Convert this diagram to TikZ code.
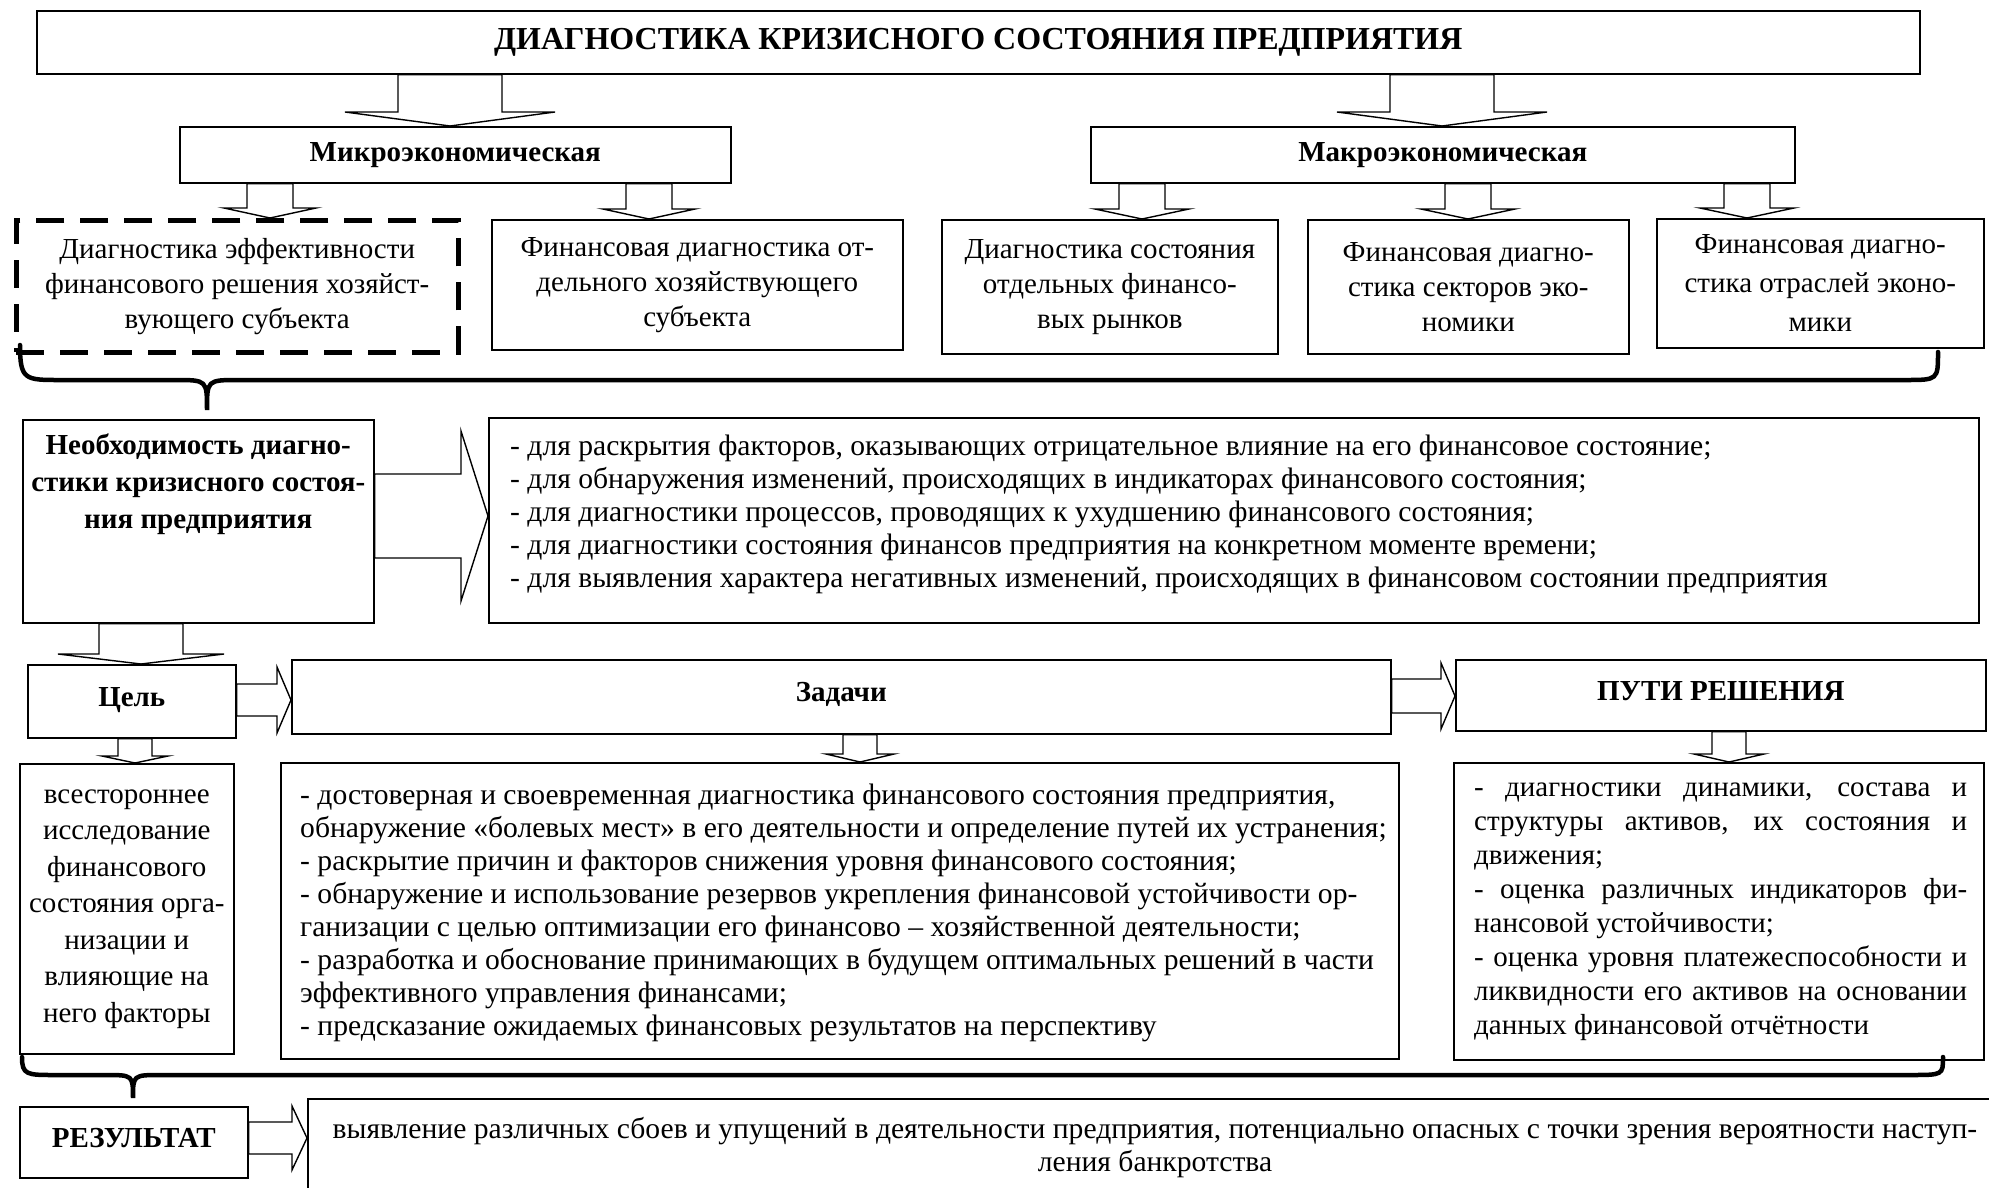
\documentclass[tikz,border=0pt]{standalone}
\usepackage{fontspec}
\setmainfont{Liberation Serif}
\usetikzlibrary{calc}

\newcommand{\txt}{\fontsize{29}{35}\selectfont}
\newcommand{\lst}{\fontsize{29.6}{33}\selectfont}
% one justified line of the right-hand list
\newcommand{\jline}[1]{\makebox[493pt][s]{\spaceskip=0.25em plus 1fil\relax #1}}

\tikzset{
  box/.style={draw, line width=1.6pt, anchor=north west, inner sep=0pt, align=center, font=\txt},
  headbox/.style={box, font=\txt\bfseries},
  capbox/.style={headbox, text height=20pt, text depth=10pt},
  listtext/.style={anchor=west, inner sep=0pt, align=left, font=\lst},
  blk/.style={draw, line width=1.4pt, fill=white},
  brace/.style={line width=4.5pt, line cap=round},
}

% hollow block arrows: position, from node, to node, half shaft, half head, head length
\newcommand{\blkdown}[6]{%
  \draw[blk] let \p1=(#2.south), \p2=(#3.north) in
    (#1pt-#4pt,\y1) -- (#1pt-#4pt,\y2+#6pt) -- (#1pt-#5pt,\y2+#6pt) -- (#1pt,\y2)
    -- (#1pt+#5pt,\y2+#6pt) -- (#1pt+#4pt,\y2+#6pt) -- (#1pt+#4pt,\y1) -- cycle;}
\newcommand{\blkright}[6]{%
  \draw[blk] let \p1=(#2.east), \p2=(#3.west) in
    (\x1,-#1pt+#4pt) -- (\x2-#6pt,-#1pt+#4pt) -- (\x2-#6pt,-#1pt+#5pt) -- (\x2,-#1pt)
    -- (\x2-#6pt,-#1pt-#5pt) -- (\x2-#6pt,-#1pt-#4pt) -- (\x1,-#1pt-#4pt) -- cycle;}

\begin{document}
\begin{tikzpicture}[x=1pt, y=-1pt]
\useasboundingbox (0,0) rectangle (1989,1187);
\clip (0,0) rectangle (1989,1187);

% title and two levels
\node[headbox, minimum width=1883pt, minimum height=63pt, font=\fontsize{32}{38}\selectfont\bfseries] (title) at (36,10) {ДИАГНОСТИКА КРИЗИСНОГО СОСТОЯНИЯ ПРЕДПРИЯТИЯ};
\node[headbox, minimum width=551pt, minimum height=56pt] (micro) at (179,126) {Микроэкономическая};
\node[headbox, minimum width=704pt, minimum height=56pt] (macro) at (1090,126) {Макроэкономическая};

\node[box, line width=4.5pt, dash pattern=on 28pt off 16pt, minimum width=442pt, minimum height=132pt] (effic) at (14,218) {Диагностика эффективности\\финансового решения хозяйст-\\вующего субъекта};
\node[box, minimum width=411pt, minimum height=130pt] (subj) at (491,219) {Финансовая диагностика от-\\дельного хозяйствующего\\субъекта};
\node[box, minimum width=336pt, minimum height=134pt] (mkts) at (941,219) {Диагностика состояния\\отдельных финансо-\\вых рынков};
\node[box, minimum width=321pt, minimum height=134pt] (sects) at (1307,219) {Финансовая диагно-\\стика секторов эко-\\номики};
\node[box, minimum width=327pt, minimum height=129pt, font=\fontsize{29}{39}\selectfont] (brnch) at (1656,218) {Финансовая диагно-\\стика отраслей эконо-\\мики};

\blkdown{450}{title}{micro}{52}{105}{14}
\blkdown{1442}{title}{macro}{52}{105}{14}
\blkdown{270}{micro}{effic}{23}{46}{10}
\blkdown{649}{micro}{subj}{23}{46}{10}
\blkdown{1142}{macro}{mkts}{23}{47}{10}
\blkdown{1468}{macro}{sects}{23}{47}{10}
\blkdown{1747}{macro}{brnch}{23}{47}{10}

\draw[brace] (20,345) .. controls (20,380) and (25,380) .. (60,380) -- (175,380)
  .. controls (207,380) .. (207,410) .. controls (207,380) .. (239,380) -- (1905,380)
  .. controls (1938,380) .. (1938,352);

% necessity
\node[box, minimum width=351pt, minimum height=203pt] (need) at (22,419) {};
\node[font=\fontsize{29}{37}\selectfont\bfseries, align=center, anchor=north, inner sep=0pt] (needtxt) at ($(need.north)+(0,15)$) {Необходимость диагно-\\стики кризисного состоя-\\ния предприятия};
\node[box, minimum width=1490pt, minimum height=205pt] (why) at (488,417) {};
\node[listtext] (whytxt) at (510,514) {%
- для раскрытия факторов, оказывающих отрицательное влияние на его финансовое состояние;\\
- для обнаружения изменений, происходящих в индикаторах финансового состояния;\\
- для диагностики процессов, проводящих к ухудшению финансового состояния;\\
- для диагностики состояния финансов предприятия на конкретном моменте времени;\\
- для выявления характера негативных изменений, происходящих в финансовом состоянии предприятия};
\blkright{516}{need}{why}{42}{85}{27}

% goal, tasks, ways
\node[capbox, minimum width=208pt, minimum height=73pt] (goal) at (27,664) {Цель};
\node[capbox, minimum width=1099pt, minimum height=74pt] (tasks) at (291,659) {Задачи};
\node[capbox, minimum width=530pt, minimum height=71pt] (ways) at (1455,659) {ПУТИ РЕШЕНИЯ};
\blkdown{141}{need}{goal}{42}{83}{10}
\blkright{700}{goal}{tasks}{16}{33}{14}
\blkright{696}{tasks}{ways}{17}{33}{14}

\node[box, minimum width=214pt, minimum height=290pt, font=\fontsize{29}{36.5}\selectfont] (aim) at (19,763) {всестороннее\\исследование\\финансового\\состояния орга-\\низации и\\влияющие на\\него факторы};
\node[box, minimum width=1118pt, minimum height=296pt] (tlist) at (280,762) {};
\node[listtext] (tlisttxt) at (300,913) {%
- достоверная и своевременная диагностика финансового состояния предприятия,\\
обнаружение «болевых мест» в его деятельности и определение путей их устранения;\\
- раскрытие причин и факторов снижения уровня финансового состояния;\\
- обнаружение и использование резервов укрепления финансовой устойчивости ор-\\
ганизации с целью оптимизации его финансово – хозяйственной деятельности;\\
- разработка и обоснование принимающих в будущем оптимальных решений в части\\
эффективного управления финансами;\\
- предсказание ожидаемых финансовых результатов на перспективу};
\node[box, minimum width=530pt, minimum height=297pt] (wlist) at (1453,762) {};
\node[listtext, font=\fontsize{29}{34}\selectfont] (wlisttxt) at (1474,912) {%
\jline{- диагностики динамики, состава и}\\
\jline{структуры активов, их состояния и}\\
движения;\\
\jline{- оценка различных индикаторов фи-}\\
нансовой устойчивости;\\
\jline{- оценка уровня платежеспособности и}\\
\jline{ликвидности его активов на основании}\\
данных финансовой отчётности};
\blkdown{135}{goal}{aim}{17}{33}{7}
\blkdown{860}{tasks}{tlist}{17}{34}{8}
\blkdown{1729}{ways}{wlist}{17}{35}{8}

\draw[brace] (22,1057) .. controls (22,1075) and (27,1075) .. (55,1075) -- (105,1075)
  .. controls (133,1075) .. (133,1098) .. controls (133,1075) .. (161,1075) -- (1910,1075)
  .. controls (1943,1075) .. (1943,1057);

% result
\node[capbox, minimum width=228pt, minimum height=71pt] (res) at (19,1106) {РЕЗУЛЬТАТ};
\node[box, minimum width=1720pt, minimum height=120pt] (rbox) at (307,1098) {};
\node[font=\lst, align=center, inner sep=0pt] (rtxt) at (1155,1148) {выявление различных сбоев и упущений в деятельности предприятия, потенциально опасных с точки зрения вероятности наступ-\\ления банкротства};
\blkright{1138}{res}{rbox}{16}{32}{15}
\end{tikzpicture}
\end{document}
